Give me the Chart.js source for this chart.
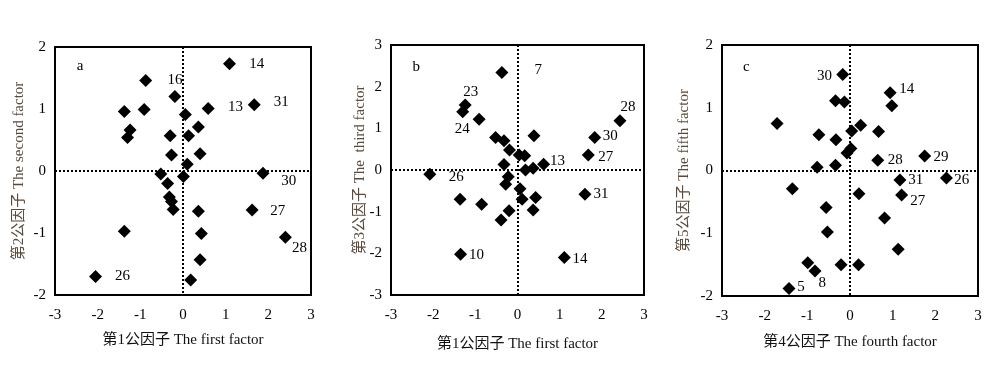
<!DOCTYPE html>
<html>
<head>
<meta charset="utf-8">
<script src="https://cdn.jsdelivr.net/npm/chart.js@4.4.1/dist/chart.umd.min.js"></script>
<style>
  html, body { margin: 0; padding: 0; background: #ffffff; }
  #wrap { position: relative; width: 1000px; height: 365px; }
  canvas { position: absolute; top: 0; }
</style>
</head>
<body>
<div id="wrap">
  <canvas id="ca" width="330" height="365" style="left:0px"></canvas>
  <canvas id="cb" width="335" height="365" style="left:330px"></canvas>
  <canvas id="cc" width="335" height="365" style="left:665px"></canvas>
</div>
<script>
// ---------- Data ----------
// Panel a: first factor (x) vs second factor (y)
const aX = [1.09,-0.875,-0.19,-1.375,-0.91,0.055,0.59,1.67,-1.24,-1.30,-0.30,0.13,0.36,-0.27,0.40,0.10,-0.52,0.01,1.875,-0.36,-0.32,-0.27,-0.23,0.36,1.62,-1.375,0.43,2.40,0.40,-2.05,0.18];
const aY = [1.73,1.46,1.20,0.96,0.99,0.91,1.01,1.07,0.66,0.54,0.57,0.57,0.71,0.26,0.28,0.11,-0.05,-0.09,-0.035,-0.20,-0.42,-0.49,-0.62,-0.65,-0.63,-0.97,-1.01,-1.07,-1.43,-1.70,-1.76];
const aLabelText = ["14","16","13","31","30","27","28","26"];
const aLabelX = [1.73,-0.19,1.23,2.30,2.48,2.22,2.73,-1.42];
const aLabelY = [1.73,1.46,1.03,1.11,-0.16,-0.64,-1.24,-1.70];

// Panel b: first factor (x) vs third factor (y)
const bX = [-0.37,-1.24,-1.30,-0.91,-0.52,-0.32,0.39,-0.19,0.04,0.17,-0.32,0.19,0.37,0.62,2.43,1.83,1.68,-2.08,-0.22,-0.28,0.06,0.11,0.43,0.37,-0.20,-0.39,-1.36,-0.85,1.60,-1.35,1.11];
const bY = [2.34,1.56,1.40,1.22,0.78,0.70,0.82,0.48,0.36,0.34,0.13,0.0,0.04,0.14,1.18,0.78,0.36,-0.10,-0.16,-0.34,-0.45,-0.70,-0.66,-0.96,-0.98,-1.20,-0.70,-0.82,-0.58,-2.02,-2.10];
const bLabelText = ["7","23","24","28","30","27","13","26","31","10","14"];
const bLabelX = [0.49,-1.11,-1.31,2.62,2.20,2.09,0.95,-1.45,1.98,-0.97,1.48];
const bLabelY = [2.40,1.88,0.98,1.50,0.82,0.30,0.22,-0.16,-0.58,-2.04,-2.13];

// Panel c: fourth factor (x) vs fifth factor (y)
const cX = [-0.17,0.94,0.98,-0.34,-0.13,-1.71,-0.73,-0.33,0.04,0.25,0.67,0.02,-0.07,0.65,1.75,-0.77,-0.34,1.17,2.26,-1.35,0.21,1.21,-0.56,0.81,-0.53,1.13,-0.99,-0.82,-0.21,0.20,-1.43];
const cY = [1.53,1.24,1.03,1.11,1.09,0.75,0.57,0.49,0.63,0.72,0.62,0.35,0.28,0.165,0.23,0.05,0.085,-0.15,-0.12,-0.29,-0.37,-0.39,-0.59,-0.755,-0.98,-1.255,-1.47,-1.60,-1.50,-1.50,-1.88];
const cLabelText = ["30","14","28","29","31","26","27","8","5"];
const cLabelX = [-0.60,1.33,1.06,2.13,1.54,2.62,1.59,-0.65,-1.15];
const cLabelY = [1.50,1.29,0.165,0.22,-0.15,-0.15,-0.48,-1.79,-1.86];

const panelLetters = ["a","b","c"];
const letterX = [-2.41,-2.40,-2.43];
const letterY = [1.69,2.48,1.65];

const xTitles = ["第1公因子 The first factor","第1公因子 The first factor","第4公因子 The fourth factor"];
const yTitles = ["第2公因子 The second factor","第3公因子 The  third factor","第5公因子 The fifth factor"];
const xRange = [-3, 3];
const yRanges = [[-2, 2], [-3, 3], [-2, 2]];

// ---------- Rendering ----------
const FONT = '"Liberation Serif", "Times New Roman", "Noto Sans CJK SC", serif';

const annotatePlugin = {
  id: 'annotate',
  afterDatasetsDraw(chart, args, opts) {
    const {ctx, chartArea, scales} = chart;
    ctx.save();
    ctx.fillStyle = '#000';
    ctx.font = '15px ' + FONT;
    ctx.textAlign = 'center';
    ctx.textBaseline = 'middle';
    opts.text.forEach((t, i) => {
      ctx.fillText(t, scales.x.getPixelForValue(opts.x[i]), scales.y.getPixelForValue(opts.y[i]));
    });
    ctx.fillText(opts.letter, scales.x.getPixelForValue(opts.letterX), scales.y.getPixelForValue(opts.letterY));
    // frame
    ctx.lineWidth = 2;
    ctx.strokeStyle = '#000';
    ctx.strokeRect(chartArea.left, chartArea.top, chartArea.right - chartArea.left, chartArea.bottom - chartArea.top);
    ctx.restore();
  }
};

function makeChart(id, xs, ys, labels, idx, geo) {
  const pts = xs.map((v, i) => ({x: v, y: ys[i]}));
  const zeroGrid = (ctx) => (ctx.tick && ctx.tick.value === 0) ? '#000' : 'rgba(0,0,0,0)';
  return new Chart(document.getElementById(id), {
    type: 'scatter',
    data: {
      datasets: [{
        data: pts,
        pointStyle: 'rectRot',
        pointRadius: 6.5,
        pointHoverRadius: 6.5,
        backgroundColor: '#000',
        borderColor: '#000',
        borderWidth: 0
      }]
    },
    options: {
      responsive: false,
      animation: false,
      events: [],
      layout: { padding: { left: 0, top: geo.top, right: geo.canvasW - geo.right, bottom: 0 } },
      plugins: {
        legend: { display: false },
        tooltip: { enabled: false },
        annotate: {
          text: labels.text, x: labels.x, y: labels.y,
          letter: panelLetters[idx], letterX: letterX[idx], letterY: letterY[idx]
        }
      },
      scales: {
        x: {
          type: 'linear',
          min: xRange[0], max: xRange[1],
          ticks: { stepSize: 1, color: '#000', padding: 11, font: { family: FONT, size: 15 } },
          grid: { color: zeroGrid, lineWidth: 2, drawTicks: false },
          border: { display: false, dash: [2, 2] },
          title: { display: true, text: xTitles[idx], color: '#111', font: { family: FONT, size: 15 }, padding: { top: 0, bottom: geo.xTitlePad } },
          afterFit(scale) { scale.height = 365 - geo.bottom; }
        },
        y: {
          type: 'linear',
          min: yRanges[idx][0], max: yRanges[idx][1],
          ticks: { stepSize: 1, color: '#000', padding: 9, font: { family: FONT, size: 15 } },
          grid: { color: zeroGrid, lineWidth: 2, drawTicks: false },
          border: { display: false, dash: [2, 2] },
          title: { display: true, text: yTitles[idx], color: '#5a4a3c', font: { family: FONT, size: 15 }, padding: { top: geo.yTitlePad, bottom: 0 } },
          afterFit(scale) { scale.width = geo.left; }
        }
      }
    },
    plugins: [annotatePlugin]
  });
}

makeChart('ca', aX, aY, {text: aLabelText, x: aLabelX, y: aLabelY}, 0,
  {canvasW: 330, left: 55, right: 311, top: 47, bottom: 295, xTitlePad: 16, yTitlePad: 10});
makeChart('cb', bX, bY, {text: bLabelText, x: bLabelX, y: bLabelY}, 1,
  {canvasW: 335, left: 61, right: 314, top: 45, bottom: 295, xTitlePad: 12, yTitlePad: 21});
makeChart('cc', cX, cY, {text: cLabelText, x: cLabelX, y: cLabelY}, 2,
  {canvasW: 335, left: 57, right: 313, top: 45, bottom: 296, xTitlePad: 14, yTitlePad: 10});
</script>
</body>
</html>
